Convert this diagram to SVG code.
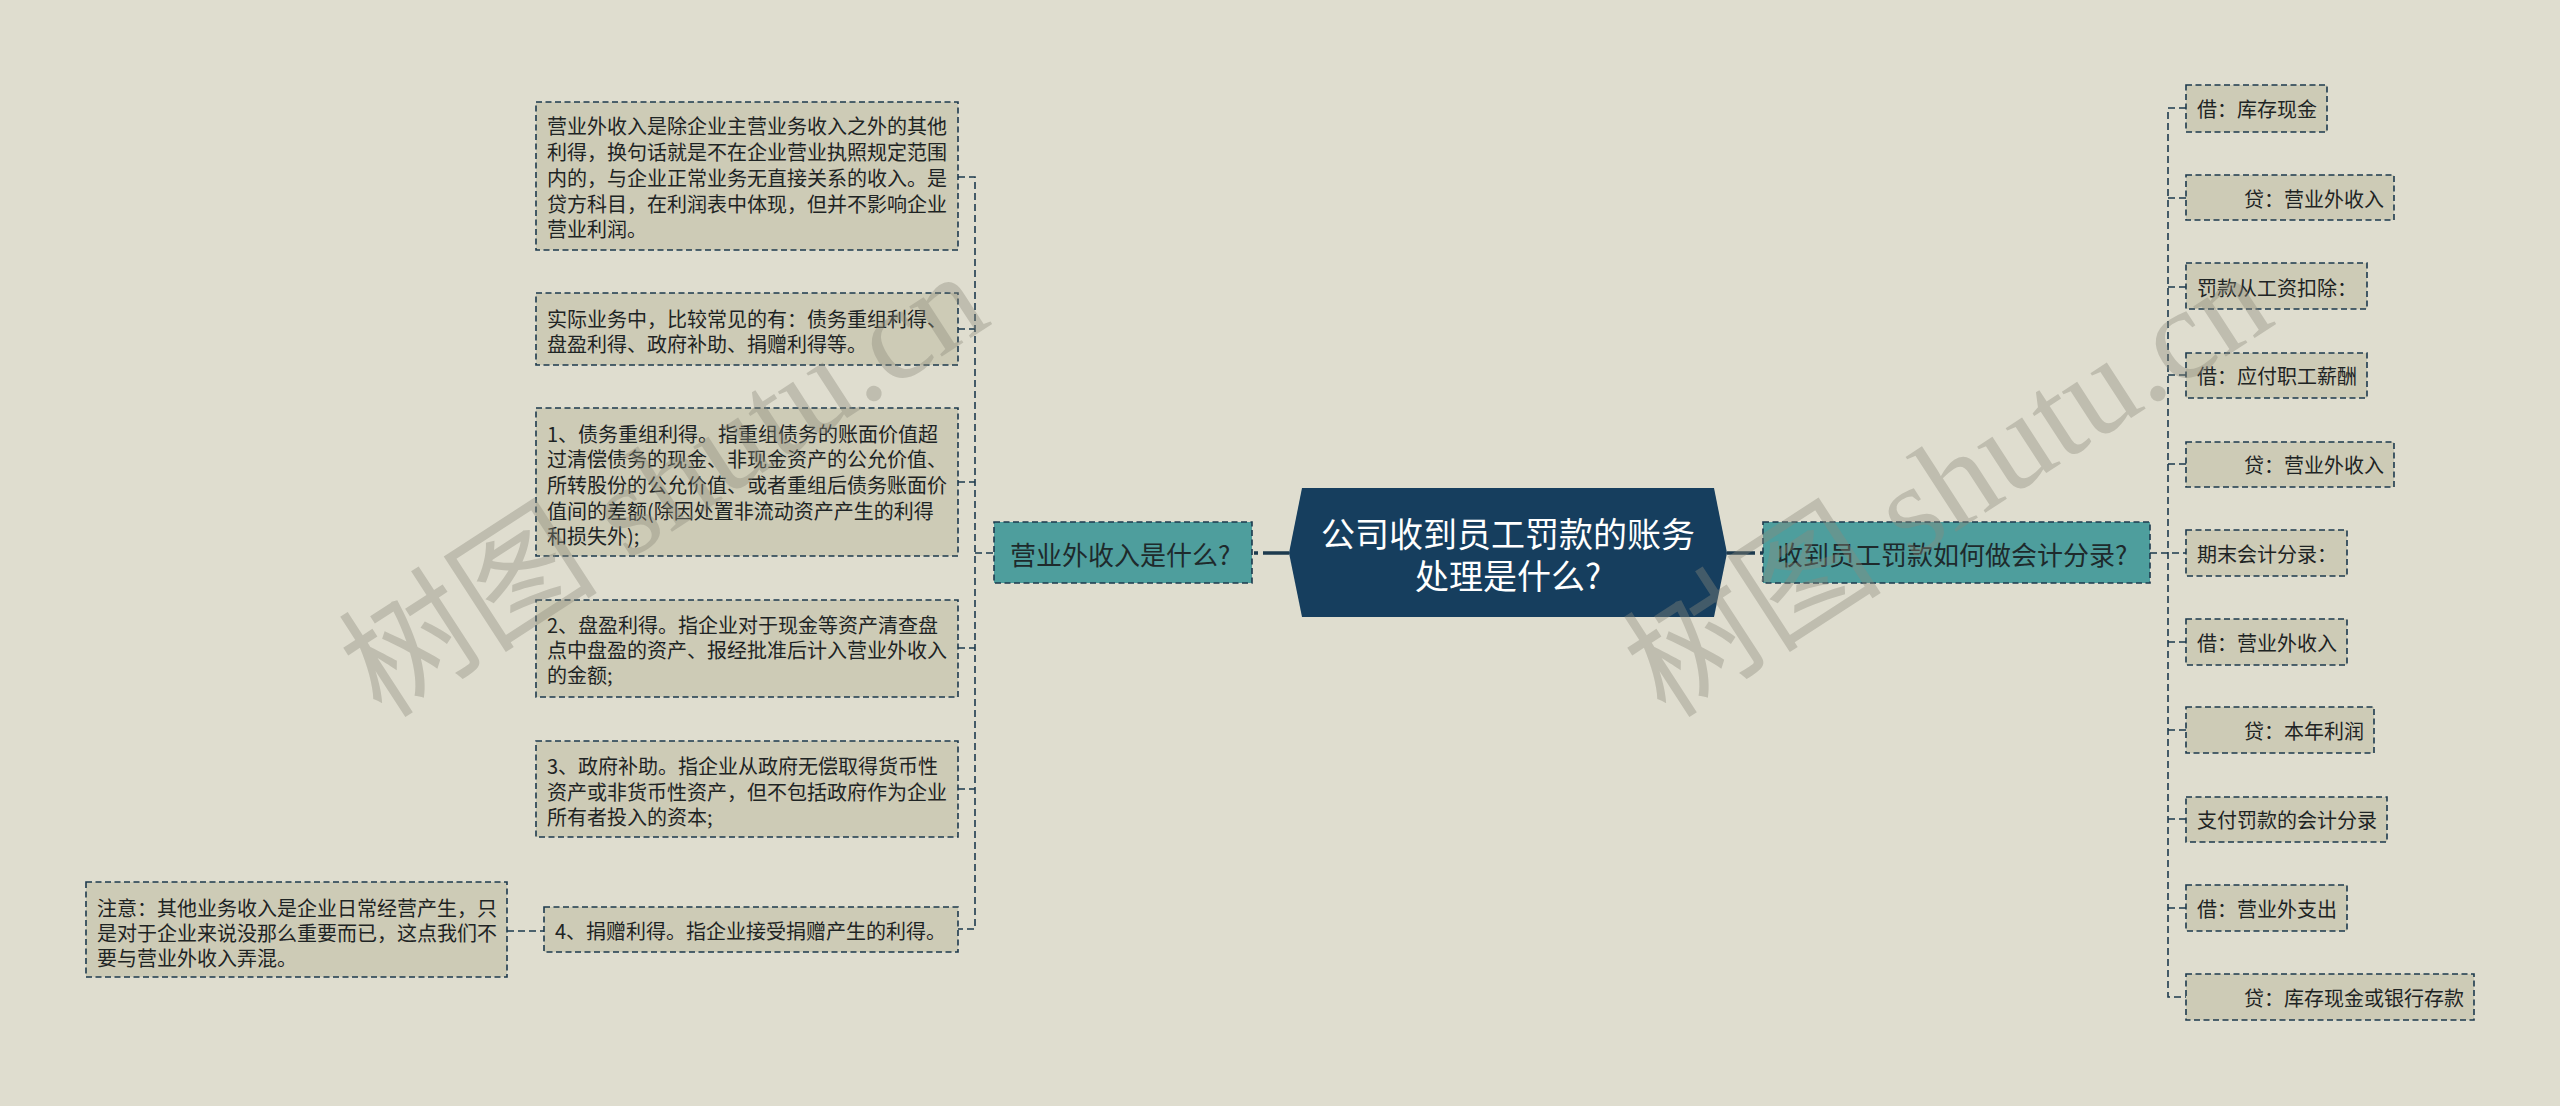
<svg xmlns="http://www.w3.org/2000/svg" width="2560" height="1106" viewBox="0 0 2560 1106">
<style>
.bg{fill:#DFDDCF}
.box{fill:#CDCBB6;stroke:#1D3A4E;stroke-width:1.6;stroke-dasharray:6 3.5}
.sub{fill:#4E9E9D;stroke:#1D3A4E;stroke-width:1.6;stroke-dasharray:6 3.5}
.t{font-family:"Noto Sans CJK SC","Noto Sans",sans-serif;font-size:20px;fill:#1E2424;dominant-baseline:central}
.ts{font-family:"Noto Sans CJK SC","Noto Sans",sans-serif;font-size:26px;fill:#1E2A2C;dominant-baseline:central}
.tc{font-family:"Noto Sans CJK SC","Noto Sans",sans-serif;font-size:34px;fill:#FFFFFF;dominant-baseline:central;text-anchor:middle}
.c{fill:none;stroke:#1D3A4E;stroke-width:1.6;stroke-dasharray:7 4}
.ct{fill:none;stroke:#1D3A4E;stroke-width:3.5}
.wm{font-family:"Liberation Serif","Noto Sans CJK SC",serif;font-size:130px;fill:#8C8A7C;opacity:0.38}
</style>
<rect class="bg" x="0" y="0" width="2560" height="1106"/>
<g id="connectors">
<path class="c" d="M958 177 H975 V929 H958"/>
<path class="c" d="M958 329 H975"/>
<path class="c" d="M958 482 H975"/>
<path class="c" d="M958 648 H975"/>
<path class="c" d="M958 789 H975"/>
<path class="c" d="M975 553 H994"/>
<path class="c" d="M507 931 H544"/>
<line class="ct" x1="1289" y1="553" x2="1254" y2="553" stroke-dasharray="26 5 6 40"/>
<line class="ct" x1="1727" y1="553" x2="1763" y2="553" stroke-dasharray="28 5 6 40"/>
<path class="c" d="M2186 108 H2168 V997 H2186"/>
<path class="c" d="M2150 553 H2186"/>
<path class="c" d="M2168 198 H2186"/>
<path class="c" d="M2168 287 H2186"/>
<path class="c" d="M2168 375 H2186"/>
<path class="c" d="M2168 464 H2186"/>
<path class="c" d="M2168 642 H2186"/>
<path class="c" d="M2168 730 H2186"/>
<path class="c" d="M2168 819 H2186"/>
<path class="c" d="M2168 908 H2186"/>
</g>
<g id="root">
<polygon points="1302,488 1714,488 1727,553 1714,617 1302,617 1289,553" fill="#163E5E"/>
<text class="tc" x="1508" y="532">公司收到员工罚款的账务</text>
<text class="tc" x="1508" y="574">处理是什么?</text>
</g>
<g id="n-left">
<rect class="sub" x="994" y="522" width="258" height="61"/>
<text class="ts" x="1010" y="553">营业外收入是什么?</text>
</g>
<g id="n-right">
<rect class="sub" x="1763" y="522" width="387" height="61"/>
<text class="ts" x="1777" y="553">收到员工罚款如何做会计分录?</text>
</g>
<g id="l1">
<rect class="box" x="536" y="102" width="422" height="148"/>
<text class="t" x="547" y="125">营业外收入是除企业主营业务收入之外的其他</text>
<text class="t" x="547" y="151">利得，换句话就是不在企业营业执照规定范围</text>
<text class="t" x="547" y="177">内的，与企业正常业务无直接关系的收入。是</text>
<text class="t" x="547" y="203">贷方科目，在利润表中体现，但并不影响企业</text>
<text class="t" x="547" y="228">营业利润。</text>
</g>
<g id="l2">
<rect class="box" x="536" y="293" width="422" height="72"/>
<text class="t" x="547" y="318">实际业务中，比较常见的有：债务重组利得、</text>
<text class="t" x="547" y="343">盘盈利得、政府补助、捐赠利得等。</text>
</g>
<g id="l3">
<rect class="box" x="536" y="408" width="422" height="148"/>
<text class="t" x="547" y="433">1、债务重组利得。指重组债务的账面价值超</text>
<text class="t" x="547" y="458">过清偿债务的现金、非现金资产的公允价值、</text>
<text class="t" x="547" y="484">所转股份的公允价值、或者重组后债务账面价</text>
<text class="t" x="547" y="510">值间的差额(除因处置非流动资产产生的利得</text>
<text class="t" x="547" y="535">和损失外);</text>
</g>
<g id="l4">
<rect class="box" x="536" y="600" width="422" height="97"/>
<text class="t" x="547" y="624">2、盘盈利得。指企业对于现金等资产清查盘</text>
<text class="t" x="547" y="649">点中盘盈的资产、报经批准后计入营业外收入</text>
<text class="t" x="547" y="674">的金额;</text>
</g>
<g id="l5">
<rect class="box" x="536" y="741" width="422" height="96"/>
<text class="t" x="547" y="765">3、政府补助。指企业从政府无偿取得货币性</text>
<text class="t" x="547" y="791">资产或非货币性资产，但不包括政府作为企业</text>
<text class="t" x="547" y="816">所有者投入的资本;</text>
</g>
<g id="l6">
<rect class="box" x="544" y="907" width="414" height="45"/>
<text class="t" x="555" y="930">4、捐赠利得。指企业接受捐赠产生的利得。</text>
</g>
<g id="l7">
<rect class="box" x="86" y="882" width="421" height="95"/>
<text class="t" x="97" y="907">注意：其他业务收入是企业日常经营产生，只</text>
<text class="t" x="97" y="932">是对于企业来说没那么重要而已，这点我们不</text>
<text class="t" x="97" y="957">要与营业外收入弄混。</text>
</g>
<g id="r1"><rect class="box" x="2186" y="85" width="141" height="47"/><text class="t" x="2197" y="108">借：库存现金</text></g>
<g id="r2"><rect class="box" x="2186" y="175" width="208" height="45"/><text class="t" x="2244" y="198">贷：营业外收入</text></g>
<g id="r3"><rect class="box" x="2186" y="263" width="181" height="46"/><text class="t" x="2197" y="287">罚款从工资扣除：</text></g>
<g id="r4"><rect class="box" x="2186" y="353" width="181" height="45"/><text class="t" x="2197" y="375">借：应付职工薪酬</text></g>
<g id="r5"><rect class="box" x="2186" y="442" width="208" height="45"/><text class="t" x="2244" y="464">贷：营业外收入</text></g>
<g id="r6"><rect class="box" x="2186" y="530" width="161" height="46"/><text class="t" x="2197" y="553">期末会计分录：</text></g>
<g id="r7"><rect class="box" x="2186" y="619" width="161" height="46"/><text class="t" x="2197" y="642">借：营业外收入</text></g>
<g id="r8"><rect class="box" x="2186" y="707" width="188" height="46"/><text class="t" x="2244" y="730">贷：本年利润</text></g>
<g id="r9"><rect class="box" x="2186" y="797" width="201" height="45"/><text class="t" x="2197" y="819">支付罚款的会计分录</text></g>
<g id="r10"><rect class="box" x="2186" y="885" width="161" height="46"/><text class="t" x="2197" y="908">借：营业外支出</text></g>
<g id="r11"><rect class="box" x="2186" y="974" width="288" height="46"/><text class="t" x="2244" y="997">贷：库存现金或银行存款</text></g>
<g id="watermark">
<text class="wm" transform="translate(382,720) rotate(-33)">树图 shutu.cn</text>
<text class="wm" transform="translate(1666,720) rotate(-33)">树图 shutu.cn</text>
</g>
</svg>
